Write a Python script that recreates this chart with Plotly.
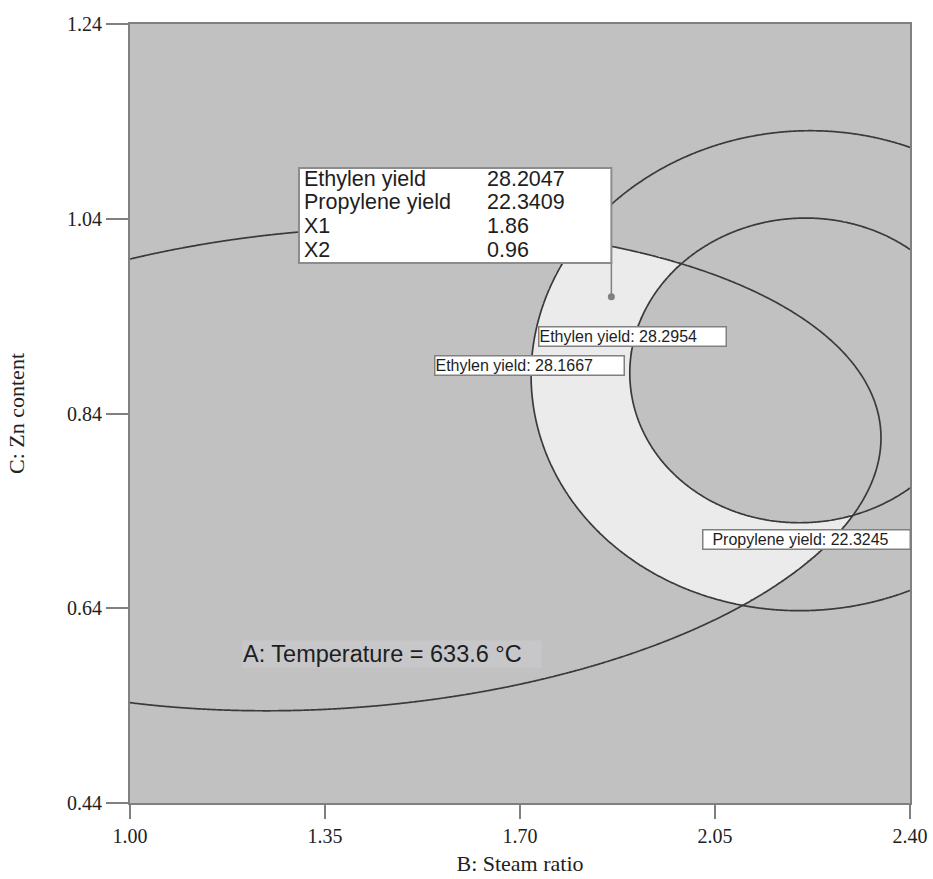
import numpy as np
import plotly.graph_objects as go

# ---- axis ticks ----
x_ticks = [1.00, 1.35, 1.70, 2.05, 2.40]
y_ticks = [0.44, 0.64, 0.84, 1.04, 1.24]

# ---- contour levels ----
eth_low, eth_high = 28.1667, 28.2954
pro_level = 22.3245

# ---- points (B: steam ratio, C: Zn content) ----
eth_low_x = [1.8705, 1.9639, 2.0823, 2.2151, 2.3228, 2.4000, 1.7754, 1.7359, 1.7233, 1.7233,
             1.8077, 1.8436, 1.9333, 2.0231, 2.1003, 2.2026, 2.3228, 2.4000]
eth_low_y = [1.0593, 1.0931, 1.1209, 1.1301, 1.1260, 1.1127, 0.9946, 0.9360, 0.8949, 0.8333,
             0.7409, 0.7132, 0.6824, 0.6557, 0.6413, 0.6361, 0.6454, 0.6587]

eth_high_x = [1.9333, 1.9926, 2.0823, 2.2151, 2.3228, 2.4000, 1.8974, 1.9082, 1.9639, 2.1846, 2.2923, 2.4000]
eth_high_y = [0.9566, 0.9946, 1.0254, 1.0408, 1.0315, 1.0079, 0.8744, 0.8333, 0.7892, 0.7275, 0.7337, 0.7645]

pro_x = [1.0000, 1.3051, 1.8705, 1.9926, 2.1487, 2.3103, 2.3462, 2.3408, 2.2923, 2.1003,
         1.9746, 1.8795, 1.7000, 1.5205, 1.2513, 1.0000]
pro_y = [0.9976, 1.0274, 1.0110, 0.9946, 0.9566, 0.8744, 0.8128, 0.7717, 0.7337, 0.6413,
         0.6074, 0.5899, 0.5643, 0.5458, 0.5334, 0.5427]

# ---- flagged point ----
point_x, point_y = 1.864, 0.96
point_eth, point_pro = 28.2047, 22.3409
temperature = 633.6


def conic(c, X, Y):
    U = (np.asarray(X) - 1.7) / 0.7
    V = (np.asarray(Y) - 0.84) / 0.4
    return c[0] * U * U + c[1] * U * V + c[2] * V * V + c[3] * U + c[4] * V + c[5]


def fit_conic(px, py, inside):
    u = (np.asarray(px) - 1.7) / 0.7
    v = (np.asarray(py) - 0.84) / 0.4
    M = np.column_stack([u * u, u * v, v * v, u, v, np.ones_like(u)])
    c = np.linalg.svd(M)[2][-1]
    if conic(c, *inside) > 0:
        c = -c
    return c


c_lo = fit_conic(eth_low_x, eth_low_y, (2.2, 0.88))
c_hi = fit_conic(eth_high_x, eth_high_y, (2.2, 0.88))
c_pr = fit_conic(pro_x, pro_y, (1.5, 0.8))

xs = np.linspace(1.0, 2.4, 561)
ys = np.linspace(0.44, 1.24, 321)
X, Y = np.meshgrid(xs, ys)
G_lo, G_hi, G_pr = conic(c_lo, X, Y), conic(c_hi, X, Y), conic(c_pr, X, Y)
feas = ((G_lo <= 0) & (G_hi >= 0) & (G_pr <= 0)).astype(float)

line_col = "#3a3a3a"
fig = go.Figure()
fig.add_trace(go.Heatmap(x=xs, y=ys, z=feas, colorscale=[[0, "#c1c1c1"], [1, "#ebebeb"]],
                         showscale=False, zmin=0, zmax=1, hoverinfo="skip"))
for G in (G_lo, G_hi, G_pr):
    fig.add_trace(go.Contour(x=xs, y=ys, z=G, contours=dict(start=0, end=0, size=1, coloring="none"),
                             line=dict(color=line_col, width=1.7), showscale=False, hoverinfo="skip"))

# flag stem + point
fig.add_trace(go.Scatter(x=[point_x, point_x], y=[point_y, 0.995], mode="lines",
                         line=dict(color="#808080", width=1.5), hoverinfo="skip"))
fig.add_trace(go.Scatter(x=[point_x], y=[point_y], mode="markers",
                         marker=dict(color="#808080", size=7), hoverinfo="skip"))

# flag box
fig.add_shape(type="rect", xref="x", yref="y", x0=1.3033, x1=point_x, y0=0.9946, y1=1.0921,
              fillcolor="white", line=dict(color="#8c8c8c", width=2), layer="above")
box_font = dict(family="Liberation Sans, Arial", size=21.5, color="#1e1e1e")
row_y = [1.0808, 1.0567, 1.0325, 1.0084]
row_lab = ["Ethylen yield", "Propylene yield", "X1", "X2"]
row_val = [f"{point_eth}", f"{point_pro}", f"{point_x:.2f}", f"{point_y:.2f}"]
for yy, lab, val in zip(row_y, row_lab, row_val):
    fig.add_annotation(x=1.3105, y=yy, xanchor="left", yanchor="middle", showarrow=False,
                       text=lab, font=box_font, borderpad=0)
    fig.add_annotation(x=1.639, y=yy, xanchor="left", yanchor="middle", showarrow=False,
                       text=val, font=box_font, borderpad=0)

lab_font = dict(family="Liberation Sans, Arial", size=16, color="#1e1e1e")
flags = [
    (1.7323, 0.9186, 186, f"Ethylen yield: {eth_high}"),
    (1.5456, 0.8893, 188, f"Ethylen yield: {eth_low}"),
    (2.0267, 0.7106, 206, "\u00a0\u00a0" + f"Propylene yield: {pro_level}"),
]
for fx, fy, w, txt in flags:
    fig.add_annotation(x=fx, y=fy, xanchor="left", yanchor="middle", showarrow=False,
                       text=txt, font=lab_font, bgcolor="white", bordercolor="#808080",
                       borderwidth=1.5, borderpad=0, width=w, height=18, align="left")

fig.add_annotation(x=1.201, y=0.593, xanchor="left", yanchor="middle", showarrow=False,
                   text=f"A: Temperature = {temperature} °C",
                   font=dict(family="Liberation Sans, Arial", size=23.5, color="#1e1e1e"),
                   bgcolor="#c7c7c9", borderpad=0, width=298, height=26, align="left")

tick_font = dict(family="Liberation Serif, Times New Roman", size=20, color="#222222")
title_font = dict(family="Liberation Serif, Times New Roman", size=22, color="#222222")
fig.update_layout(
    width=933, height=879, margin=dict(l=130, r=23, t=24, b=76, autoexpand=False),
    plot_bgcolor="#c1c1c1", paper_bgcolor="white", showlegend=False,
)
fig.update_xaxes(range=[1.0, 2.4], tickvals=x_ticks, ticktext=[f"{v:.2f}" for v in x_ticks],
                 ticks="outside", ticklen=14, tickwidth=1.5, tickcolor="#808080", showgrid=False,
                 zeroline=False, showline=True, linecolor="#808080", linewidth=2, mirror=True,
                 automargin=False, tickfont=tick_font,
                 title=dict(text="B: Steam ratio", font=title_font, standoff=10))
fig.update_yaxes(range=[0.44, 1.24], tickvals=y_ticks, ticktext=[f"{v:.2f}" for v in y_ticks],
                 ticks="outside", ticklen=22, tickwidth=1.5, tickcolor="#808080", showgrid=False,
                 zeroline=False, showline=True, linecolor="#808080", linewidth=2, mirror=True,
                 automargin=False, tickfont=tick_font,
                 title=dict(text="C: Zn content", font=title_font, standoff=36))
fig.write_html("out.html")
